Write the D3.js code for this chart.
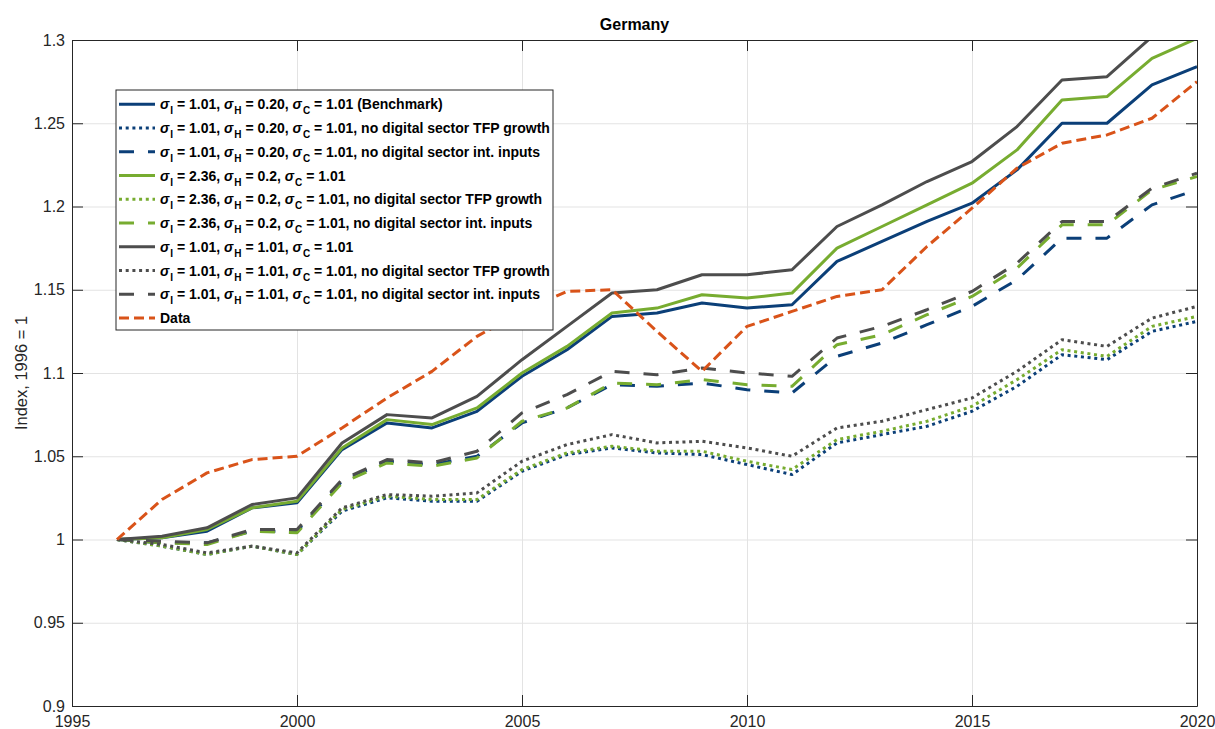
<!DOCTYPE html>
<html>
<head>
<meta charset="utf-8">
<script src="https://cdn.jsdelivr.net/npm/d3@7"></script>
<style>
  body { margin: 0; background: #fff; }
  svg { font-family: "Liberation Sans", Arial, sans-serif; }
</style>
</head>
<body>
<svg id="chart" width="1215" height="729"></svg>
<script>
// Data (index, 1996 = 1)
var years = d3.range(1996, 2021)

var benchSolid = [1.000, 1.001, 1.005, 1.019, 1.022, 1.054, 1.070, 1.067, 1.077, 1.098, 1.114, 1.134, 1.136, 1.142, 1.139, 1.141, 1.167, 1.179, 1.191, 1.202, 1.222, 1.250, 1.250, 1.273, 1.284]
var benchNoTfp = [1.000, 0.996, 0.991, 0.996, 0.991, 1.017, 1.025, 1.023, 1.023, 1.041, 1.051, 1.055, 1.052, 1.051, 1.045, 1.039, 1.058, 1.063, 1.068, 1.077, 1.092, 1.111, 1.108, 1.125, 1.131]
var benchNoInt = [1.000, 0.998, 0.998, 1.005, 1.005, 1.035, 1.047, 1.045, 1.050, 1.070, 1.079, 1.093, 1.092, 1.094, 1.090, 1.088, 1.110, 1.118, 1.129, 1.140, 1.156, 1.181, 1.181, 1.201, 1.210]

var highISolid = [1.000, 1.001, 1.006, 1.019, 1.023, 1.055, 1.072, 1.069, 1.079, 1.100, 1.116, 1.136, 1.139, 1.147, 1.145, 1.148, 1.175, 1.188, 1.201, 1.214, 1.234, 1.264, 1.266, 1.289, 1.301]
var highINoTfp = [1.000, 0.996, 0.991, 0.996, 0.991, 1.018, 1.026, 1.024, 1.024, 1.042, 1.052, 1.056, 1.053, 1.053, 1.047, 1.042, 1.060, 1.065, 1.071, 1.080, 1.096, 1.114, 1.110, 1.128, 1.134]
var highINoInt = [1.000, 0.998, 0.997, 1.005, 1.004, 1.034, 1.046, 1.044, 1.049, 1.071, 1.079, 1.094, 1.093, 1.096, 1.093, 1.092, 1.117, 1.123, 1.135, 1.146, 1.163, 1.189, 1.189, 1.210, 1.218]

var unitSolid = [1.000, 1.002, 1.007, 1.021, 1.025, 1.058, 1.075, 1.073, 1.086, 1.108, 1.128, 1.148, 1.150, 1.159, 1.159, 1.162, 1.188, 1.201, 1.215, 1.227, 1.248, 1.276, 1.278, 1.302, 1.325]
var unitNoTfp = [1.000, 0.997, 0.992, 0.996, 0.992, 1.019, 1.027, 1.026, 1.028, 1.047, 1.057, 1.063, 1.058, 1.059, 1.055, 1.050, 1.067, 1.071, 1.078, 1.085, 1.101, 1.120, 1.116, 1.133, 1.140]
var unitNoInt = [1.000, 0.999, 0.998, 1.006, 1.006, 1.036, 1.048, 1.046, 1.053, 1.076, 1.087, 1.101, 1.099, 1.103, 1.100, 1.098, 1.121, 1.128, 1.138, 1.149, 1.166, 1.191, 1.191, 1.211, 1.220]

var dataSeries = [1.000, 1.024, 1.040, 1.048, 1.050, 1.067, 1.085, 1.101, 1.122, 1.137, 1.149, 1.150, 1.125, 1.101, 1.128, 1.137, 1.146, 1.150, 1.176, 1.199, 1.223, 1.238, 1.243, 1.253, 1.275]

var xTicks = [1995, 2000, 2005, 2010, 2015, 2020]
var yTicks = [0.9, 0.95, 1, 1.05, 1.1, 1.15, 1.2, 1.25, 1.3]

// legend text: sigma_I, sigma_H, sigma_C, suffix
var legendLabels = [
  ['1.01', '0.20', '1.01', ' (Benchmark)'],
  ['1.01', '0.20', '1.01', ', no digital sector TFP growth'],
  ['1.01', '0.20', '1.01', ', no digital sector int. inputs'],
  ['2.36', '0.2', '1.01', ''],
  ['2.36', '0.2', '1.01', ', no digital sector TFP growth'],
  ['2.36', '0.2', '1.01', ', no digital sector int. inputs'],
  ['1.01', '1.01', '1.01', ''],
  ['1.01', '1.01', '1.01', ', no digital sector TFP growth'],
  ['1.01', '1.01', '1.01', ', no digital sector int. inputs'],
  'Data'
]

// styles
var blue = '#0b3f78'
var green = '#77ac30'
var gray = '#4d4d4d'
var orange = '#d95319'
var dotted = '3,3.7'
var dashed = '15,14'

var series = [
  { values: benchSolid, color: blue, dash: null },
  { values: benchNoTfp, color: blue, dash: dotted },
  { values: benchNoInt, color: blue, dash: dashed },
  { values: highISolid, color: green, dash: null },
  { values: highINoTfp, color: green, dash: dotted },
  { values: highINoInt, color: green, dash: dashed },
  { values: unitSolid, color: gray, dash: null },
  { values: unitNoTfp, color: gray, dash: dotted },
  { values: unitNoInt, color: gray, dash: dashed },
  { values: dataSeries, color: orange, dash: '10,5' }
]

// Set up margin/height/width
var margin = { top: 40, left: 72, right: 18, bottom: 23 }
var width = 1215 - margin.left - margin.right
var height = 729 - margin.top - margin.bottom

var svg = d3.select('#chart')
var g = svg.append('g')
  .attr('transform', 'translate(' + margin.left + ',' + margin.top + ')')

var xPositionScale = d3.scaleLinear().domain([1995, 2020]).range([0, width])
var yPositionScale = d3.scaleLinear().domain([0.9, 1.3]).range([height, 0])

// grid
g.append('g')
  .attr('class', 'grid')
  .attr('transform', 'translate(0,' + height + ')')
  .call(d3.axisBottom(xPositionScale).tickValues(xTicks).tickSize(-height).tickFormat(''))
g.append('g')
  .attr('class', 'grid')
  .call(d3.axisLeft(yPositionScale).tickValues(yTicks).tickSize(-width).tickFormat(''))
g.selectAll('.grid .domain').remove()
g.selectAll('.grid line').attr('stroke', '#e3e3e3').attr('stroke-width', 1)

// lines
g.append('clipPath').attr('id', 'plot-clip')
  .append('rect').attr('width', width).attr('height', height)

var line = d3.line()
  .x(function(d, i) { return xPositionScale(years[i]) })
  .y(function(d) { return yPositionScale(d) })

g.append('g')
  .attr('clip-path', 'url(#plot-clip)')
  .selectAll('path')
  .data(series)
  .enter()
  .append('path')
  .attr('d', function(d) { return line(d.values) })
  .attr('fill', 'none')
  .attr('stroke', function(d) { return d.color })
  .attr('stroke-width', 3)
  .attr('stroke-linejoin', 'round')
  .attr('stroke-dasharray', function(d) { return d.dash })

// axes, ticks pointing inward
var axisColor = '#262626'
var xAxis = d3.axisBottom(xPositionScale).tickValues(xTicks).tickSize(-11).tickSizeOuter(0).tickPadding(10).tickFormat(d3.format('d'))
var yAxis = d3.axisLeft(yPositionScale).tickValues(yTicks).tickSize(-11).tickSizeOuter(0).tickPadding(7).tickFormat(d3.format('~g'))

g.append('g')
  .attr('class', 'axis x-axis')
  .attr('transform', 'translate(0,' + height + ')')
  .call(xAxis)
g.append('g')
  .attr('class', 'axis y-axis')
  .call(yAxis)
g.append('g')
  .attr('class', 'axis')
  .call(d3.axisTop(xPositionScale).tickValues(xTicks).tickSize(-11).tickSizeOuter(0).tickFormat(''))
g.append('g')
  .attr('class', 'axis')
  .attr('transform', 'translate(' + width + ',0)')
  .call(d3.axisRight(yPositionScale).tickValues(yTicks).tickSize(-11).tickSizeOuter(0).tickFormat(''))

g.selectAll('.axis path, .axis line').attr('stroke', axisColor).attr('stroke-width', 1)
g.selectAll('.axis text')
  .attr('fill', axisColor)
  .attr('font-size', 16)
  .attr('font-family', '"Liberation Sans", Arial, sans-serif')

// title and y label
svg.append('text')
  .text('Germany')
  .attr('x', margin.left + width / 2)
  .attr('y', 30)
  .attr('text-anchor', 'middle')
  .attr('font-size', 16)
  .attr('font-weight', 'bold')
  .attr('fill', '#000')

svg.append('text')
  .text('Index, 1996 = 1')
  .attr('transform', 'translate(27,' + (margin.top + height / 2) + ') rotate(-90)')
  .attr('text-anchor', 'middle')
  .attr('font-size', 16.5)
  .attr('fill', axisColor)

// legend
var legend = svg.append('g').attr('transform', 'translate(116,90)')
legend.append('rect')
  .attr('width', 437)
  .attr('height', 240)
  .attr('fill', '#fff')
  .attr('stroke', '#262626')
  .attr('stroke-width', 1)

var rowH = 23.75
legendLabels.forEach(function(lab, i) {
  var yRow = 14.3 + i * rowH
  legend.append('line')
    .attr('x1', 3).attr('x2', 39)
    .attr('y1', yRow).attr('y2', yRow)
    .attr('stroke', series[i].color)
    .attr('stroke-width', 3)
    .attr('stroke-dasharray', series[i].dash)

  var t = legend.append('text')
    .attr('x', 44)
    .attr('y', yRow + 5)
    .attr('font-size', 14)
    .attr('font-weight', 'bold')
    .attr('fill', '#000')

  if (typeof lab === 'string') {
    t.text(lab)
    return
  }
  var subs = ['I', 'H', 'C']
  subs.forEach(function(s, k) {
    t.append('tspan').attr('font-style', 'italic').text('\u03c3')
    t.append('tspan').attr('font-size', 10).attr('dx', 1).attr('dy', 5).text(s)
    t.append('tspan').attr('dy', -5).text(' = ' + lab[k] + (k < 2 ? ', ' : ''))
  })
  t.append('tspan').text(lab[3])
})
</script>
</body>
</html>
